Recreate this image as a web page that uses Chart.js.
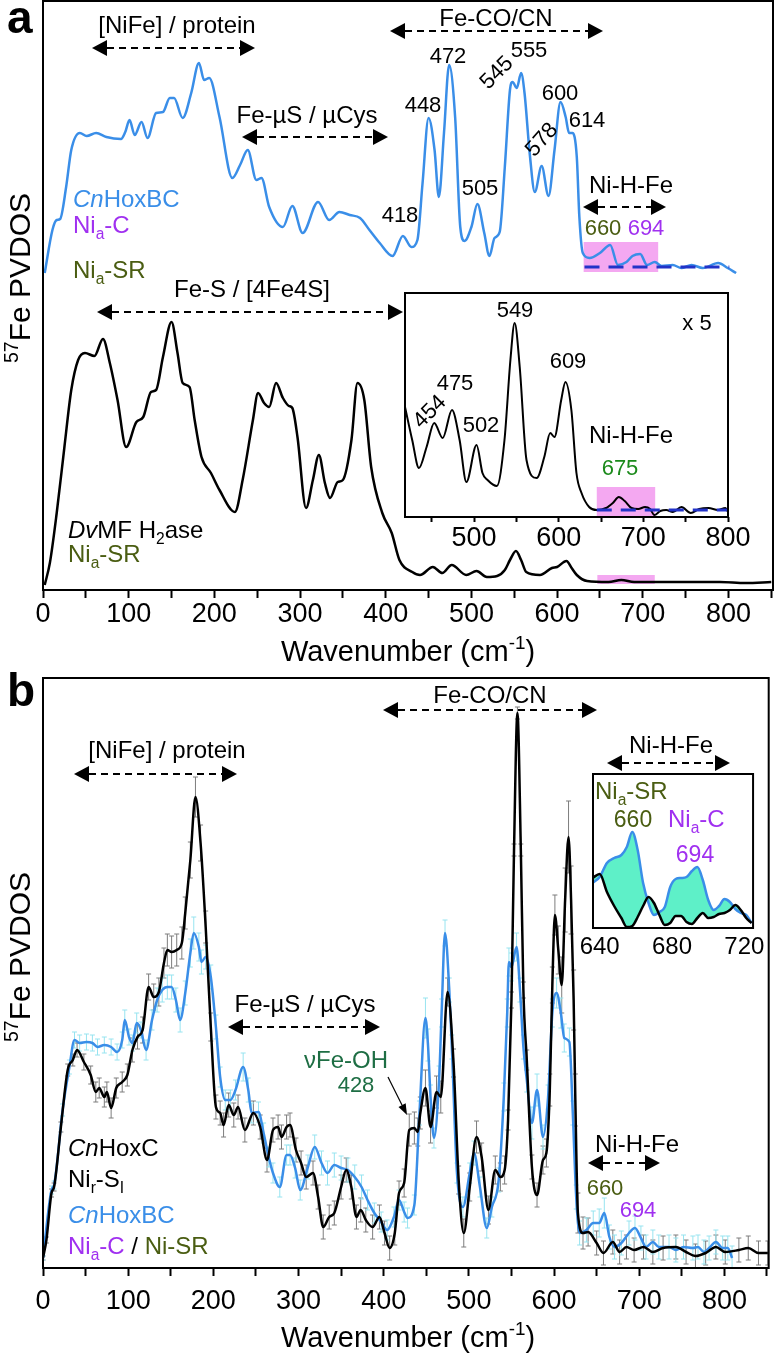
<!DOCTYPE html>
<html>
<head>
<meta charset="utf-8">
<script src="https://cdn.jsdelivr.net/npm/chart.js@4.4.1/dist/chart.umd.min.js"></script>
<style>
  body { margin: 0; background: #fff; }
  #wrap { position: relative; width: 776px; height: 1354px; overflow: hidden; }
  canvas { position: absolute; }
</style>
</head>
<body>
<div id="wrap">
  <canvas id="mainA" width="776" height="672" style="left:0;top:0"></canvas>
  <canvas id="insetA" width="380" height="290" style="left:380px;top:280px"></canvas>
  <canvas id="mainB" width="776" height="682" style="left:0;top:672px"></canvas>
  <canvas id="insetB" width="200" height="210" style="left:570px;top:760px"></canvas>
</div>
<script>
// ---- data (wavenumber in cm-1, PVDOS in arbitrary units) ----
const mainTicks = [0, 50, 100, 150, 200, 250, 300, 350, 400, 450, 500, 550, 600, 650, 700, 750, 800, 850];
const mainLabels = [0, 100, 200, 300, 400, 500, 600, 700, 800];
const insetATicks = [450, 500, 550, 600, 650, 700, 750, 800];
const insetALabels = [500, 600, 700, 800];
const insetBTicks = [640, 680, 720];

// panel a, CnHoxBC (offset spectrum)
const blueAX = [2,11,16,20,27,33,43,51,62,74,91,96,101,107,115,122,132,140,148,153,163,173,182,188,194,206,221,230,239,249,255,264,280,291,303,321,334,346,358,370,381,393,408,420,430,437,443,450,457,462,468,474,481,487,492,500,507,515,521,527,533,539,545,548,553,558,562,568,574,582,590,597,604,610,614,618,623,626,630,638,650,662,671,681,688,697,705,714,722,735,745,757,770,788,799,809];
const blueAY = [317,360,370,371,403,440,457,454,457,453,451,458,470,455,468,452,477,478,492,492,472,497,527,510,512,473,412,425,440,410,412,383,363,384,357,388,370,378,375,372,360,347,334,354,343,350,407,472,440,393,457,525,473,363,349,363,386,357,334,352,358,423,500,508,502,517,497,437,398,424,394,440,488,473,457,457,433,373,337,332,337,345,325,328,334,336,325,328,324,325,322,325,322,327,322,317];

// panel a, DvMF H2ase
const blackAX = [2,8,16,25,33,41,49,60,70,78,87,97,109,117,126,132,140,150,157,163,171,177,185,196,206,224,233,245,251,258,264,272,280,287,291,297,307,315,322,329,335,344,350,360,367,375,383,396,407,416,431,440,455,466,477,494,506,518,530,539,545,552,558,564,580,594,600,611,617,623,635,660,675,690,710,730,760,790,820,850];
const blackAY = [5,27,77,143,200,230,237,234,251,227,190,143,168,173,198,200,233,268,237,207,203,170,133,117,100,78,110,170,197,187,183,207,192,184,182,153,82,110,135,107,92,108,110,150,207,190,123,77,57,30,18,15,23,17,25,15,19,13,14,20,30,39,30,18,15,22,23,29,22,15,9,8,10,8,8,8,8,8,7,8];

// panel a inset, DvMF H2ase x 5
const insetAX = [418.5,427,435,444,453,463,474,483,491,503,510,516,527,536,543,548,554,562,574,583,590,595,603,608,615,621,627,636,645,656,664,671,678,686,694,702,708,713,720,727,735,745,756,766,777,788,797,800];
const insetAY = [110,77,49,70,94,79,107,77,35,72,44,37,31,77,157,194,150,57,39,60,84,80,117,135,107,44,24,10,7,9,14,20,16,9,8,10,8,2,6,7,5,10,4,8,9,7,9,5];

// baselines and Ni-H-Fe windows, panel a
const baseAX = [632, 801], baseAY = [323, 323];
const baseInsetX = [645, 800], baseInsetY = [7, 7];
const windowA = [631, 718, 318, 348];
const windowA2 = [647, 714, 6, 15];
const windowInset = [645, 714, 0, 30];

// panel b, CnHoxC
const blackBX = [0,4,10,13,21,29,35,40,48,56,62,66,72,75,80,86,93,99,105,111,117,124,130,136,142,146,151,157,163,167,173,179,185,191,197,203,208,212,218,224,229,237,247,255,263,270,276,280,286,290,297,303,309,317,323,329,336,342,350,356,362,368,373,379,387,395,401,407,413,418,424,430,436,440,443,449,455,462,467,475,482,488,494,501,509,515,523,531,537,542,546,550,553,557,561,564,568,574,580,587,591,595,598,601,605,609,613,617,620,623,625,628,634,640,650,658,669,677,685,694,705,716,728,743,755,766,778,790,801,817,828,840,851];
const blackBY = [10,28,75,81,141,198,208,218,206,193,176,180,171,176,160,180,186,193,218,231,238,281,271,276,305,318,316,318,325,355,408,471,425,341,241,161,155,143,163,153,161,138,155,141,108,138,141,131,141,143,118,105,91,95,71,41,51,55,81,98,81,51,58,48,41,51,35,20,35,75,85,138,140,136,155,180,141,176,171,276,205,88,35,81,131,111,58,98,91,98,148,268,418,555,418,278,208,101,73,108,115,178,283,353,318,283,368,431,368,268,168,55,35,36,25,15,26,16,21,18,21,16,20,21,16,12,15,21,16,18,20,15,15];
const blackBErr = [2,3,4,4,5,6,6,7,8,9,10,10,10,10,10,10,10,11,12,12,13,13,13,14,15,16,16,16,16,16,18,20,18,16,14,12,12,12,12,12,12,12,12,12,12,12,12,12,12,12,12,12,12,12,12,12,12,12,12,12,12,12,12,12,12,12,12,12,12,12,14,16,16,14,16,18,16,16,16,14,14,14,14,14,16,14,14,14,14,14,10,8,6,6,6,8,10,12,12,14,14,16,18,20,24,28,32,36,34,30,26,20,16,14,12,12,12,12,12,12,12,12,12,12,12,12,12,12,12,12,12,12,12];

// panel b, CnHoxBC
const blueBX = [0,10,13,23,31,37,43,51,58,64,72,80,87,93,96,101,105,110,115,121,128,134,140,146,151,156,161,167,173,177,183,186,191,197,203,208,214,220,226,235,241,245,253,259,265,270,278,286,290,296,302,311,319,327,334,342,350,358,366,374,381,389,397,404,412,418,424,428,436,442,449,452,455,459,465,468,472,477,480,486,493,501,506,513,521,527,535,541,545,547,550,556,560,564,568,574,580,587,593,598,603,608,612,618,622,626,630,638,646,653,659,665,671,679,688,695,702,708,716,723,735,743,752,763,769,776,782,790,798,804,809];
const blueBY = [10,78,83,158,201,228,225,226,225,221,223,221,216,228,248,231,225,245,238,218,248,268,278,281,281,268,248,275,315,335,321,306,311,291,241,191,168,168,178,201,178,155,156,135,111,95,81,113,113,100,78,101,121,105,95,103,100,98,91,81,68,55,46,38,51,68,56,50,63,155,250,223,171,130,188,255,335,278,221,95,61,95,115,81,40,61,88,171,255,306,301,321,278,221,188,145,178,131,171,255,275,255,230,226,155,71,35,38,45,45,55,31,21,25,35,40,30,21,26,21,21,18,21,20,21,16,20,26,20,20,10];
const blueBErr = [2,4,4,6,7,8,8,8,8,8,8,8,8,8,10,8,8,10,8,10,10,12,12,12,12,12,12,12,14,16,14,12,12,12,12,10,10,10,10,14,12,10,10,10,10,10,10,10,10,10,10,12,12,12,12,12,12,12,12,12,10,10,10,10,10,10,10,10,10,12,20,16,12,10,14,14,13,12,12,10,10,10,12,10,10,10,12,14,14,14,14,14,12,12,12,16,16,12,12,14,15,15,14,14,12,12,12,12,12,14,15,12,12,12,12,12,12,12,12,12,12,12,12,12,12,12,12,12,12,12,12];

// panel b inset, Ni-H-Fe region
const insetBX = [636,640,644,648,652,655,658,661,664,667,670,673,676,679,682,685,688,691,694,697,700,703,706,709,712,715,718,721,724];
const insetBBlue = [45,51,65,70,73,81,96,78,45,25,13,16,21,41,49,50,51,57,61,48,28,18,22,29,26,19,15,13,5];
const insetBBlack = [50,54,36,22,10,1,2,11,22,31,25,13,3,5,12,12,6,4,10,15,10,11,14,15,18,23,18,10,5];

// ---- styling ----
const FONT = '"Liberation Sans", Arial, Helvetica, sans-serif';
const BLUE = '#3a8ee8';
const OLIVE = '#4a5d12';
const PURPLE = '#a030f0';
const GREEN = '#1b8a1b';
const TEAL = '#1e6e44';
const PINK = '#f4a8f1';
const NAVY = '#2233c8';

const xy = (xs, ys) => xs.map((x, i) => ({ x: x, y: ys[i] }));

function line(xs, ys, color, width, extra) {
  return Object.assign({
    data: xy(xs, ys), borderColor: color, borderWidth: width,
    pointRadius: 0, cubicInterpolationMode: 'monotone', fill: false
  }, extra || {});
}

function xScale(min, max, tickVals, labels, o) {
  return {
    type: 'linear', min: min, max: max,
    afterBuildTicks: s => { s.ticks = tickVals.map(v => ({ value: v })); },
    afterFit: s => { s.height = o.height; },
    ticks: {
      font: { family: FONT, size: o.size }, color: '#000', padding: o.pad,
      maxRotation: 0, autoSkip: false,
      callback: v => labels.includes(v) ? String(v) : ''
    },
    grid: { display: o.tick > 0, drawOnChartArea: false, drawTicks: true, tickLength: o.tick, tickColor: '#000', tickWidth: 2 },
    border: { display: false }
  };
}

function setFont(ctx, size, bold, italic) {
  ctx.font = (italic ? 'italic ' : '') + (bold ? 'bold ' : '') + size + 'px ' + FONT;
}

// text with italic / sub / sup pieces
function rich(ctx, parts, x, y, size, align, color) {
  const items = parts.map(p => typeof p === 'string' ? { t: p } : Object.assign({}, p));
  let w = 0;
  items.forEach(p => {
    p.s = (p.sub || p.sup) ? size * 0.65 : size;
    setFont(ctx, p.s, p.b, p.it);
    p.w = ctx.measureText(p.t).width;
    w += p.w;
  });
  let cx = align === 'center' ? x - w / 2 : align === 'right' ? x - w : x;
  ctx.textAlign = 'left';
  ctx.textBaseline = 'alphabetic';
  items.forEach(p => {
    setFont(ctx, p.s, p.b, p.it);
    ctx.fillStyle = p.c || color;
    const dy = p.sub ? size * 0.24 : p.sup ? -size * 0.4 : 0;
    ctx.fillText(p.t, cx, y + dy);
    cx += p.w;
  });
}

function txt(ctx, t, x, y, size, color, align) {
  rich(ctx, [t], x, y, size, align || 'center', color || '#000');
}

function rotTxt(ctx, t, x, y, deg, size) {
  ctx.save();
  ctx.translate(x, y);
  ctx.rotate(deg * Math.PI / 180);
  setFont(ctx, size);
  ctx.textAlign = 'center';
  ctx.textBaseline = 'middle';
  ctx.fillStyle = '#000';
  ctx.fillText(t, 0, 0);
  ctx.restore();
}

// dashed double-headed arrow
function dArrow(ctx, x1, x2, y) {
  const hl = 15, hh = 8;
  ctx.save();
  ctx.strokeStyle = '#000';
  ctx.fillStyle = '#000';
  ctx.lineWidth = 2;
  ctx.setLineDash([7, 5]);
  ctx.beginPath(); ctx.moveTo(x1 + hl, y); ctx.lineTo(x2 - hl, y); ctx.stroke();
  ctx.setLineDash([]);
  ctx.beginPath(); ctx.moveTo(x1, y); ctx.lineTo(x1 + hl, y - hh); ctx.lineTo(x1 + hl, y + hh); ctx.closePath(); ctx.fill();
  ctx.beginPath(); ctx.moveTo(x2, y); ctx.lineTo(x2 - hl, y - hh); ctx.lineTo(x2 - hl, y + hh); ctx.closePath(); ctx.fill();
  ctx.restore();
}

function thinArrow(ctx, x1, y1, x2, y2) {
  const a = Math.atan2(y2 - y1, x2 - x1), L = 11, W = 4;
  const bx = x2 - L * Math.cos(a), by = y2 - L * Math.sin(a);
  ctx.save();
  ctx.strokeStyle = '#000';
  ctx.fillStyle = '#000';
  ctx.lineWidth = 1.2;
  ctx.beginPath(); ctx.moveTo(x1, y1); ctx.lineTo(bx, by); ctx.stroke();
  ctx.beginPath();
  ctx.moveTo(x2, y2);
  ctx.lineTo(bx + W * Math.sin(a), by - W * Math.cos(a));
  ctx.lineTo(bx - W * Math.sin(a), by + W * Math.cos(a));
  ctx.closePath(); ctx.fill();
  ctx.restore();
}

function xTitle(ctx, x, y) {
  rich(ctx, ['Wavenumber (cm', { t: '-1', sup: true }, ')'], x, y, 29, 'center', '#000');
}

function yTitle(ctx, x, y) {
  ctx.save();
  ctx.translate(x, y);
  ctx.rotate(-Math.PI / 2);
  rich(ctx, [{ t: '57', sup: true }, 'Fe PVDOS'], 0, 0, 30, 'center', '#000');
  ctx.restore();
}

// ---- plugins ----
function frame(white) {
  return {
    id: 'frame',
    beforeDraw(chart) {
      if (!white) return;
      const a = chart.chartArea, ctx = chart.ctx;
      ctx.save();
      ctx.fillStyle = '#fff';
      ctx.fillRect(a.left, a.top, a.right - a.left, a.bottom - a.top);
      ctx.restore();
    },
    afterDraw(chart) {
      const a = chart.chartArea, ctx = chart.ctx;
      ctx.save();
      ctx.strokeStyle = '#000';
      ctx.lineWidth = 2;
      ctx.strokeRect(a.left, a.top, a.right - a.left, a.bottom - a.top);
      ctx.restore();
    }
  };
}

function shade(boxes) {
  return {
    id: 'shade',
    beforeDatasetsDraw(chart) {
      const xs = chart.scales.x, ys = chart.scales.y, ctx = chart.ctx;
      ctx.save();
      ctx.fillStyle = PINK;
      boxes.forEach(b => {
        const l = xs.getPixelForValue(b[0]), r = xs.getPixelForValue(b[1]);
        const t = ys.getPixelForValue(b[3]), btm = ys.getPixelForValue(b[2]);
        ctx.fillRect(l, t, r - l, btm - t);
      });
      ctx.restore();
    }
  };
}

const errorBars = {
  id: 'errorBars',
  beforeDatasetsDraw(chart) {
    const ctx = chart.ctx, ys = chart.scales.y, area = chart.chartArea;
    chart.data.datasets.forEach((ds, i) => {
      if (!ds.errors) return;
      const meta = chart.getDatasetMeta(i);
      ctx.save();
      ctx.beginPath();
      ctx.rect(area.left, area.top, area.right - area.left, area.bottom - area.top);
      ctx.clip();
      ctx.strokeStyle = ds.errorColor;
      ctx.lineWidth = 1;
      meta.data.forEach((pt, j) => {
        const v = ds.data[j].y, e = ds.errors[j];
        const top = ys.getPixelForValue(v + e), bot = ys.getPixelForValue(v - e);
        ctx.beginPath();
        ctx.moveTo(pt.x, top); ctx.lineTo(pt.x, bot);
        ctx.moveTo(pt.x - 2.5, top); ctx.lineTo(pt.x + 2.5, top);
        ctx.moveTo(pt.x - 2.5, bot); ctx.lineTo(pt.x + 2.5, bot);
        ctx.stroke();
      });
      ctx.restore();
    });
  }
};

function notes(dx, dy, fn) {
  return {
    id: 'notes',
    afterDraw(chart) {
      const ctx = chart.ctx;
      ctx.save();
      ctx.translate(-dx, -dy);
      fn(ctx);
      ctx.restore();
    }
  };
}

const Nia = (c, rest) => [{ t: 'Ni', c: c }, { t: 'a', sub: true, c: c }, { t: rest, c: c }];

// ---- page-coordinate annotations ----
function drawA(ctx) {
  rich(ctx, [{ t: 'a', b: true }], 7, 33, 46, 'left', '#000');
  yTitle(ctx, 30, 278);
  xTitle(ctx, 408, 661);

  txt(ctx, '[NiFe] / protein', 177, 33, 24);
  dArrow(ctx, 92, 255, 48);
  txt(ctx, 'Fe-\u00b5S / \u00b5Cys', 307, 123, 24);
  dArrow(ctx, 242, 388, 137);
  txt(ctx, 'Fe-CO/CN', 496, 26, 24);
  dArrow(ctx, 390, 603, 31);

  rich(ctx, [{ t: 'Cn', it: true }, 'HoxBC'], 73, 207, 24, 'left', BLUE);
  rich(ctx, Nia(PURPLE, '-C'), 73, 233, 24, 'left', PURPLE);
  rich(ctx, Nia(OLIVE, '-SR'), 73, 278, 24, 'left', OLIVE);

  txt(ctx, '418', 400, 222, 22);
  txt(ctx, '448', 423, 112, 22);
  txt(ctx, '472', 448, 63, 22);
  txt(ctx, '505', 480, 195, 22);
  txt(ctx, '555', 529, 57, 22);
  txt(ctx, '600', 560, 100, 22);
  txt(ctx, '614', 587, 127, 22);
  rotTxt(ctx, '545', 497, 73, -45, 22);
  rotTxt(ctx, '578', 542, 140, -48, 22);

  txt(ctx, 'Ni-H-Fe', 631, 193, 24);
  dArrow(ctx, 583, 666, 207);
  txt(ctx, '660', 603, 235, 22, OLIVE);
  txt(ctx, '694', 646, 235, 22, PURPLE);

  txt(ctx, 'Fe-S / [4Fe4S]', 252, 297, 24);
  dArrow(ctx, 97, 403, 312);
  rich(ctx, [{ t: 'Dv', it: true }, 'MF H', { t: '2', sub: true }, 'ase'], 68, 538, 24, 'left', '#000');
  rich(ctx, Nia(OLIVE, '-SR'), 68, 562, 24, 'left', OLIVE);
}

function drawInsetA(ctx) {
  txt(ctx, '549', 515, 317, 22);
  txt(ctx, 'x 5', 697, 330, 22);
  txt(ctx, '609', 568, 368, 22);
  txt(ctx, '475', 455, 390, 22);
  rotTxt(ctx, '454', 430, 412, -45, 22);
  txt(ctx, '502', 481, 432, 22);
  txt(ctx, 'Ni-H-Fe', 631, 443, 24);
  txt(ctx, '675', 620, 475, 22, GREEN);
}

function drawB(ctx) {
  rich(ctx, [{ t: 'b', b: true }], 7, 706, 46, 'left', '#000');
  yTitle(ctx, 30, 957);
  xTitle(ctx, 408, 1347);

  txt(ctx, '[NiFe] / protein', 167, 758, 24);
  dArrow(ctx, 74, 237, 774);
  txt(ctx, 'Fe-CO/CN', 490, 703, 24);
  dArrow(ctx, 383, 597, 710);
  txt(ctx, 'Ni-H-Fe', 671, 753, 24);
  dArrow(ctx, 607, 730, 763);

  txt(ctx, 'Fe-\u00b5S / \u00b5Cys', 305, 1012, 24);
  dArrow(ctx, 228, 380, 1027);
  txt(ctx, '\u03bdFe-OH', 388, 1068, 24, TEAL, 'right');
  txt(ctx, '428', 356, 1092, 22, TEAL);
  thinArrow(ctx, 388, 1077, 407, 1115);

  rich(ctx, [{ t: 'Cn', it: true }, 'HoxC'], 68, 1156, 24, 'left', '#000');
  rich(ctx, ['Ni', { t: 'r', sub: true }, '-S', { t: 'I', sub: true }], 68, 1187, 24, 'left', '#000');
  rich(ctx, [{ t: 'Cn', it: true }, 'HoxBC'], 68, 1223, 24, 'left', BLUE);
  rich(ctx, Nia(PURPLE, '-C').concat([{ t: ' / ', c: '#000' }, { t: 'Ni-SR', c: OLIVE }]), 68, 1254, 24, 'left', '#000');

  txt(ctx, 'Ni-H-Fe', 637, 1152, 24);
  dArrow(ctx, 588, 660, 1163);
  txt(ctx, '660', 605, 1195, 22, OLIVE);
  txt(ctx, '694', 638, 1217, 22, PURPLE);
}

function drawInsetB(ctx) {
  rich(ctx, Nia(OLIVE, '-SR'), 595, 799, 24, 'left', OLIVE);
  txt(ctx, '660', 633, 827, 23, OLIVE);
  rich(ctx, Nia(PURPLE, '-C'), 668, 827, 24, 'left', PURPLE);
  txt(ctx, '694', 695, 862, 23, PURPLE);
}

const base = {
  responsive: false, animation: false, events: [],
  plugins: { legend: { display: false }, tooltip: { enabled: false } }
};

// ---- panel a ----
new Chart(document.getElementById('mainA'), {
  type: 'line',
  data: { datasets: [
    line(baseAX, baseAY, NAVY, 3, { borderDash: [15, 9], cubicInterpolationMode: 'default' }),
    line(blueAX, blueAY, BLUE, 2.5),
    line(blackAX, blackAY, '#000', 2.5)
  ] },
  options: Object.assign({}, base, {
    layout: { padding: { left: 43, right: 3, top: 1, bottom: 0 } },
    scales: {
      x: xScale(0, 852, mainTicks, mainLabels, { height: 82, size: 27, pad: 0, tick: 8 }),
      y: { display: false, min: 0, max: 589 }
    }
  }),
  plugins: [frame(false), shade([windowA, windowA2]), notes(0, 0, drawA)]
});

new Chart(document.getElementById('insetA'), {
  type: 'line',
  data: { datasets: [
    line(baseInsetX, baseInsetY, NAVY, 3, { borderDash: [15, 9], cubicInterpolationMode: 'default' }),
    line(insetAX, insetAY, '#000', 2)
  ] },
  options: Object.assign({}, base, {
    layout: { padding: { left: 25, right: 32, top: 13, bottom: 0 } },
    scales: {
      x: xScale(418.5, 800, insetATicks, insetALabels, { height: 53, size: 27, pad: 0, tick: 5 }),
      y: { display: false, min: 0, max: 224 }
    }
  }),
  plugins: [frame(true), shade([windowInset]), notes(380, 280, drawInsetA)]
});

// ---- panel b ----
new Chart(document.getElementById('mainB'), {
  type: 'line',
  data: { datasets: [
    line(blackBX, blackBY, '#000', 2.5, { errors: blackBErr, errorColor: '#7d7d7d' }),
    line(blueBX, blueBY, BLUE, 2.5, { errors: blueBErr, errorColor: '#97e4f0' })
  ] },
  options: Object.assign({}, base, {
    layout: { padding: { left: 43, right: 3, top: 6, bottom: 0 } },
    scales: {
      x: xScale(0, 852, mainTicks, mainLabels, { height: 86, size: 27, pad: 9, tick: 8 }),
      y: { display: false, min: 0, max: 590 }
    }
  }),
  plugins: [frame(false), errorBars, notes(0, 672, drawB)]
});

new Chart(document.getElementById('insetB'), {
  type: 'line',
  data: { datasets: [
    line(insetBX, insetBBlack, '#000', 2.5),
    line(insetBX, insetBBlue, BLUE, 2.5, { fill: '-1', backgroundColor: '#5ef0c8' })
  ] },
  options: Object.assign({}, base, {
    layout: { padding: { left: 23, right: 11, top: 14, bottom: 0 } },
    scales: {
      x: xScale(636.3, 724.8, insetBTicks, insetBTicks, { height: 42, size: 24, pad: 5, tick: 0 }),
      y: { display: false, min: 0, max: 154 }
    }
  }),
  plugins: [frame(true), notes(570, 760, drawInsetB)]
});
</script>
</body>
</html>
